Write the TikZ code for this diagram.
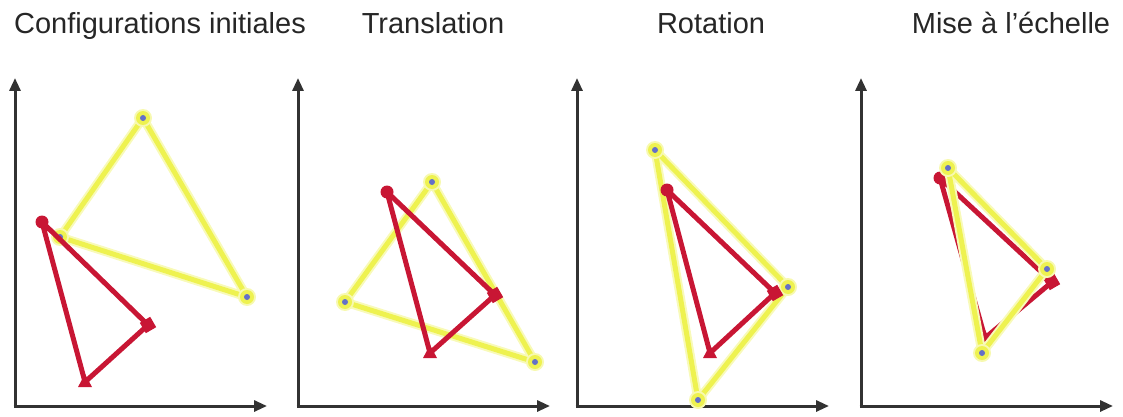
\documentclass[tikz,border=0pt]{standalone}
\usepackage{fontspec}
\setmainfont{Liberation Sans}
\usetikzlibrary{arrows.meta}
\definecolor{axisgray}{RGB}{50,50,50}
\definecolor{trired}{RGB}{200,22,52}
\definecolor{triyellow}{RGB}{238,242,80}
\definecolor{dotblue}{RGB}{100,112,200}

\begin{document}
\begin{tikzpicture}[x=1pt, y=-1pt,
    every node/.style={font=\fontsize{29}{34}\selectfont, text=black!85, anchor=base, inner sep=0pt},
    axis/.style={line width=3pt, draw=axisgray, -{Triangle[length=13pt,width=11pt]}},
    redside/.style={line width=5pt, draw=trired, line join=round},
    glowside/.style={line width=9pt, draw=triyellow!40, line join=round},
    yellowside/.style={line width=5pt, draw=triyellow, line join=round}]
    \useasboundingbox (0,0) rectangle (1123,417);
    % titres
    \node (t1) at (160,34) {Configurations initiales};
    \node (t2) at (433,34) {Translation};
    \node (t3) at (711,34) {Rotation};
    \node (t4) at (1011,34) {Mise à l’échelle};
    % axes
    \foreach \ox in {15,298,577,861}{
        \draw[axis] (\ox,406) -- (\ox,78);
        \draw[axis] (\ox-1.5,406) -- (\ox+252,406);
    }
    % sommets
    \coordinate (y1a) at (143,118); \coordinate (y1b) at (247,297); \coordinate (y1c) at (60,237);
    \coordinate (r1a) at (42,222);  \coordinate (r1b) at (148,325); \coordinate (r1c) at (85,382);
    \coordinate (y2a) at (432,182); \coordinate (y2b) at (535,362); \coordinate (y2c) at (345,302);
    \coordinate (r2a) at (387,192); \coordinate (r2b) at (495,295); \coordinate (r2c) at (430,353);
    \coordinate (y3a) at (655,150); \coordinate (y3b) at (788,287); \coordinate (y3c) at (698,400);
    \coordinate (r3a) at (667,190); \coordinate (r3b) at (775,293); \coordinate (r3c) at (710,353);
    \coordinate (y4a) at (948,168); \coordinate (y4b) at (1047,269); \coordinate (y4c) at (982,353);
    \coordinate (r4a) at (940,178); \coordinate (r4b) at (1052,282); \coordinate (r4c) at (985,338);
    % triangle rouge de la derniere vue, sous le jaune
    \draw[redside] (r4a) -- (r4b) -- (r4c) -- cycle;
    \fill[trired] (r4a) circle (6.5);
    \fill[trired, shift={(r4b)}, rotate=30] (-6,-6) rectangle (6,6);
    \fill[trired, shift={(r4c)}] (0,-8) -- (7,5) -- (-7,5) -- cycle;
    % triangles jaunes
    \foreach \k in {1,2,3,4}{
        \draw[glowside] (y\k a) -- (y\k b) -- (y\k c) -- cycle;
        \draw[yellowside] (y\k a) -- (y\k b) -- (y\k c) -- cycle;
        \foreach \v in {a,b,c}{
            \fill[triyellow!45] (y\k\v) circle (9);
            \fill[triyellow] (y\k\v) circle (7);
            \fill[dotblue] (y\k\v) circle (3);
        }
    }
    % triangles rouges
    \foreach \k in {1,2,3}{
        \draw[redside] (r\k a) -- (r\k b) -- (r\k c) -- cycle;
        \fill[trired] (r\k a) circle (6.5);
        \fill[trired, shift={(r\k b)}, rotate=30] (-6,-6) rectangle (6,6);
        \fill[trired, shift={(r\k c)}] (0,-8) -- (7,5) -- (-7,5) -- cycle;
    }
\end{tikzpicture}
\end{document}
